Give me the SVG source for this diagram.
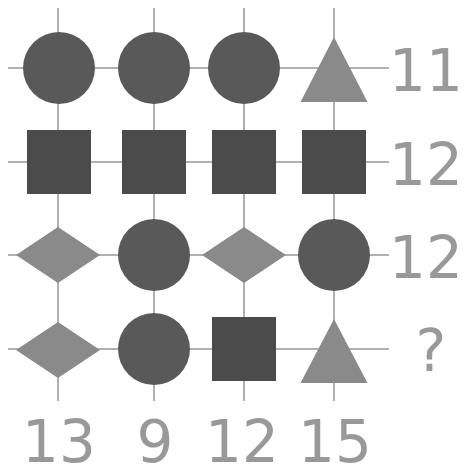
<svg xmlns="http://www.w3.org/2000/svg" width="464" height="468" viewBox="0 0 464 468">
<style>
.ln{stroke:#b0b0b0;stroke-width:2;fill:none}
.c{fill:#595959}
.s{fill:#4b4b4b}
.t{fill:#8a8a8a}
.d{fill:#8a8a8a}
.lb{font-family:"DejaVu Sans",sans-serif;font-size:58px;fill:#999999;text-anchor:middle}
</style>
<rect width="464" height="468" fill="#ffffff"/>
<g id="connectors">
<line class="ln" x1="8" y1="68" x2="389" y2="68"/>
<line class="ln" x1="8" y1="162" x2="389" y2="162"/>
<line class="ln" x1="8" y1="255" x2="389" y2="255"/>
<line class="ln" x1="8" y1="349" x2="389" y2="349"/>
<line class="ln" x1="58" y1="8" x2="58" y2="401"/>
<line class="ln" x1="154" y1="8" x2="154" y2="401"/>
<line class="ln" x1="244" y1="8" x2="244" y2="401"/>
<line class="ln" x1="334" y1="8" x2="334" y2="401"/>
</g>
<g id="r1c1"><circle class="c" cx="59" cy="68" r="36"/></g>
<g id="r1c2"><circle class="c" cx="154" cy="68" r="36"/></g>
<g id="r1c3"><circle class="c" cx="244" cy="68" r="36"/></g>
<g id="r1c4"><polygon class="t" points="334,37 367.5,102 300.5,102"/></g>
<g id="r2c1"><rect class="s" x="27" y="130" width="64" height="64"/></g>
<g id="r2c2"><rect class="s" x="122" y="130" width="64" height="64"/></g>
<g id="r2c3"><rect class="s" x="212" y="130" width="64" height="64"/></g>
<g id="r2c4"><rect class="s" x="302" y="130" width="64" height="64"/></g>
<g id="r3c1"><polygon class="d" points="16,255 58,227 100,255 58,283"/></g>
<g id="r3c2"><circle class="c" cx="154" cy="255" r="36"/></g>
<g id="r3c3"><polygon class="d" points="202,255 244,227 286,255 244,283"/></g>
<g id="r3c4"><circle class="c" cx="334" cy="255" r="36"/></g>
<g id="r4c1"><polygon class="d" points="16,350 58,322 100,350 58,378"/></g>
<g id="r4c2"><circle class="c" cx="154" cy="349" r="36"/></g>
<g id="r4c3"><rect class="s" x="212" y="317" width="64" height="64"/></g>
<g id="r4c4"><polygon class="t" points="334,319 367.5,383 300.5,383"/></g>
<g id="labels">
<text class="lb" x="426" y="91">11</text>
<text class="lb" x="426" y="185">12</text>
<text class="lb" x="426" y="278">12</text>
<text class="lb" x="431" y="371">?</text>
<text class="lb" x="59" y="462">13</text>
<text class="lb" x="155" y="462">9</text>
<text class="lb" x="242" y="462">12</text>
<text class="lb" x="335" y="462">15</text>
</g>
</svg>
